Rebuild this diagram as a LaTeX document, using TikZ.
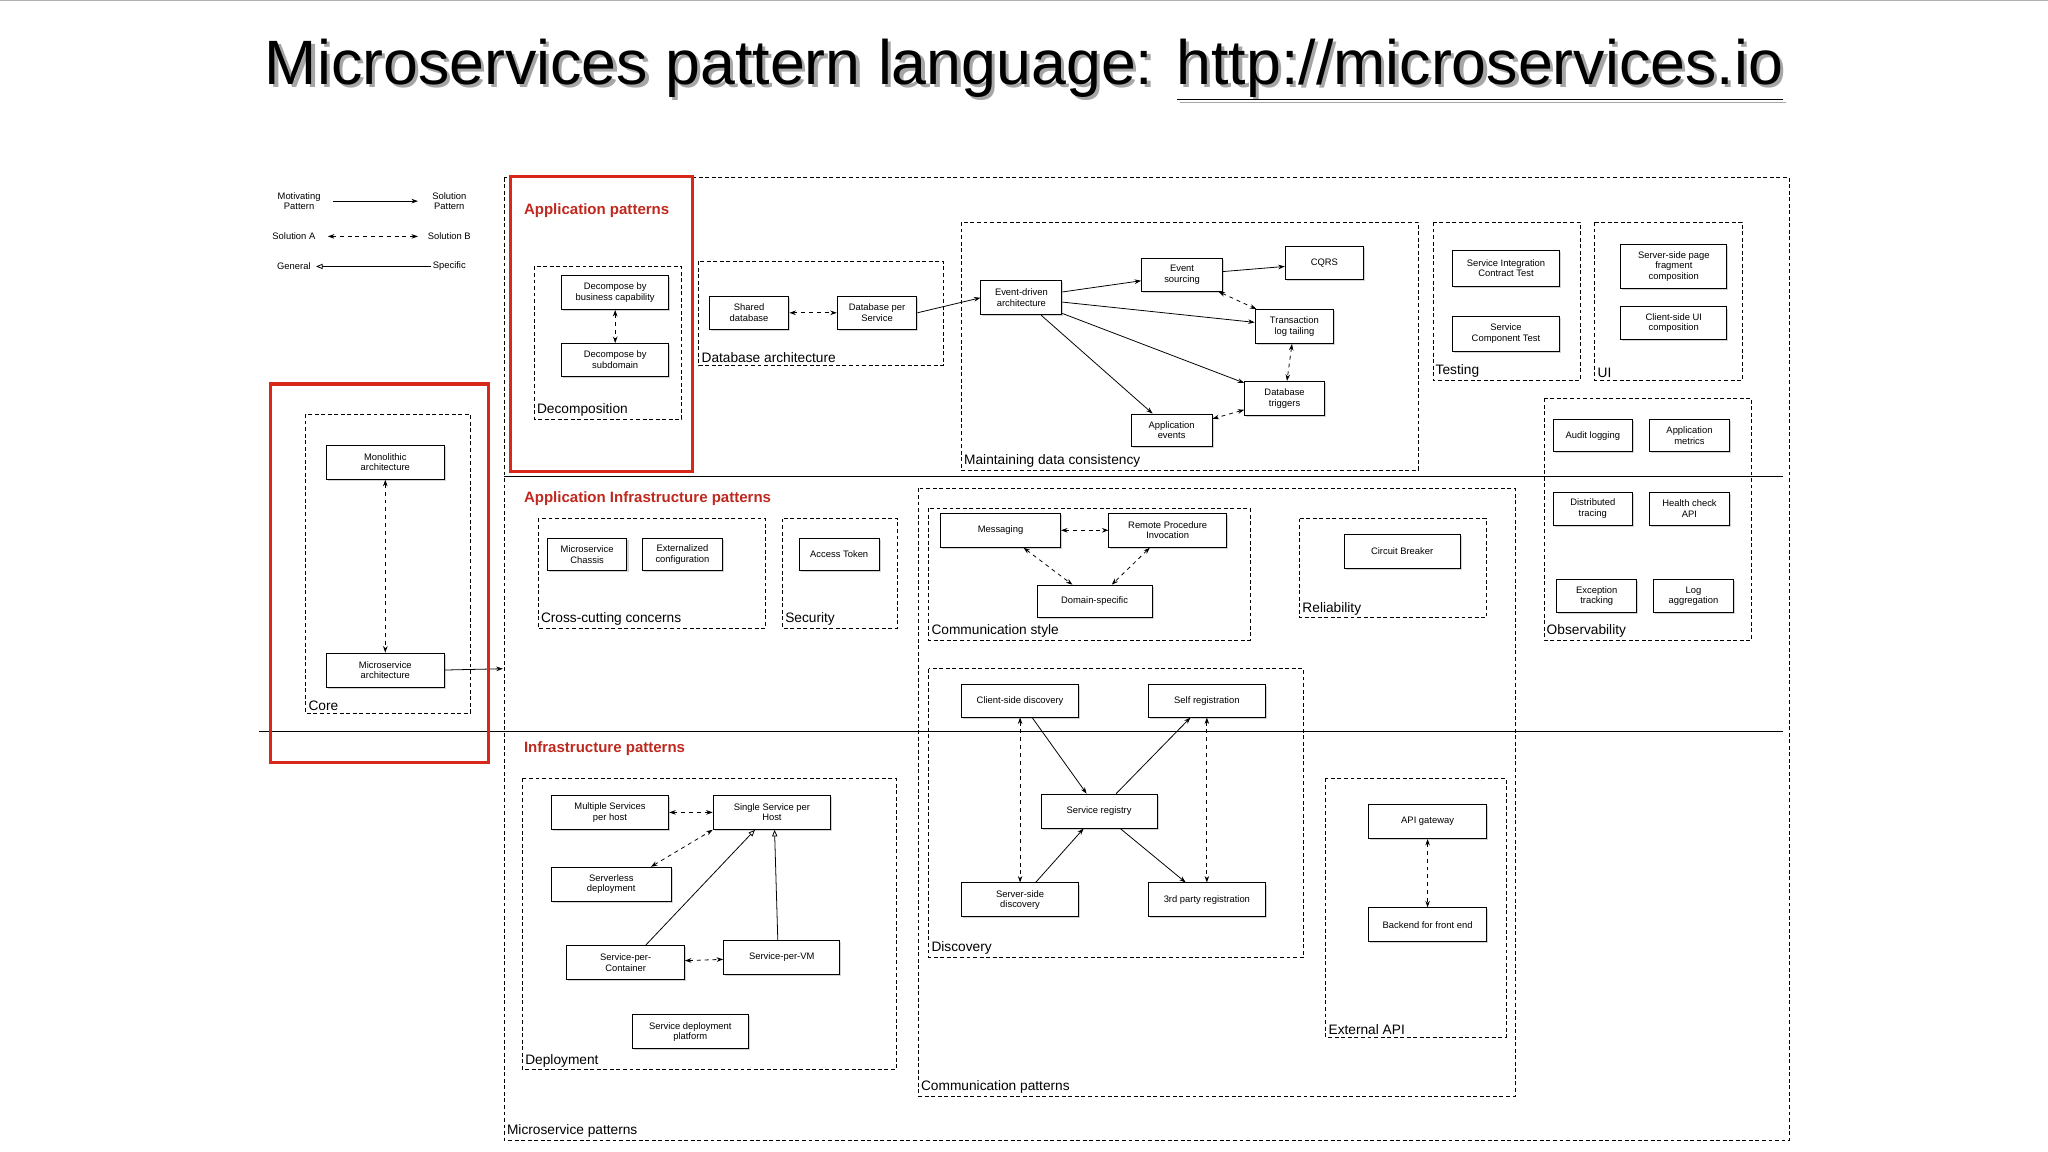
\documentclass[tikz,border=0pt]{standalone}
\usepackage{fontspec}
\setmainfont{Liberation Sans}
\usetikzlibrary{arrows.meta,shadows}
\definecolor{redl}{RGB}{190,40,30}
\definecolor{redb}{RGB}{215,40,25}
\newcommand\bx[6]{\node[box,minimum width={(#4-#2)*1pt},minimum height={(#5-#3)*1pt}] (#1) at ({(#2+#4)/2},{(#3+#5)/2}) {#6};}
\newcommand\grp[5]{\draw[grpb] (#1,#2) rectangle (#3,#4); \node[glab] at (#1,#4) {#5};}
\begin{document}
\begin{tikzpicture}[x=1pt,y=-1pt,
 box/.style={draw,fill=white,line width=0.7pt,align=center,inner sep=1pt,font=\fontsize{7.2}{8}\selectfont,drop shadow={shadow xshift=1.2pt,shadow yshift=-1.2pt,opacity=0.35}},
 grpb/.style={dashed,line width=0.5pt,dash pattern=on 3pt off 2pt},
 glab/.style={anchor=south west,inner sep=2pt,font=\fontsize{10.5}{11}\selectfont},
 rlab/.style={anchor=west,inner sep=0pt,text=redl,font=\bfseries\fontsize{11.5}{12}\selectfont},
 ar/.style={-{Stealth[length=5pt,width=3.5pt]},line width=0.6pt},
 dd/.style={{Stealth[length=5pt,width=3.5pt]}-{Stealth[length=5pt,width=3.5pt]},dashed,line width=0.6pt},
 tri/.style={-{Triangle[open,length=5pt,width=4pt]},line width=0.6pt},
 lg/.style={font=\fontsize{7.2}{8}\selectfont,align=center,inner sep=1pt}]
\useasboundingbox (0,0) rectangle (1568,882);
\draw[gray!60,line width=0.5pt] (0,0.5) -- (1568,0.5);
% title
\node[text=black!35,font=\fontsize{48}{52}\selectfont] at (786.5,55.5) {Microservices pattern language: \underline{http://microservices.io}};
\node[font=\fontsize{48}{52}\selectfont] (title) at (784,53) {Microservices pattern language: \underline{http://microservices.io}};
% legend
\node[lg] (mp) at (229,154) {Motivating\\Pattern};
\node[lg] (sp) at (344,154) {Solution\\Pattern};
\draw[ar] (255,154) -- (320,154);
\node[lg] (sa) at (225,181) {Solution A};
\node[lg] (sb) at (344,181) {Solution B};
\draw[dd] (251,181) -- (320,181);
\node[lg] (ge) at (225,204) {General};
\node[lg] (spc) at (344,204) {Specific};
\draw[tri] (330,204) -- (242,204);
% outer
\grp{386}{136}{1370}{873}{Microservice patterns}
\draw[line width=0.8pt] (386,365) -- (1365,365);
\draw[line width=0.8pt] (198,560) -- (1365,560);
% core
\grp{234}{317}{360}{546}{Core}
\bx{mono}{250}{341}{340}{367}{Monolithic\\architecture}
\bx{micro}{250}{500}{340}{526}{Microservice\\architecture}
\draw[dd] (mono) -- (micro);
\coordinate (mcend) at (385,512);
\draw[ar] (micro.east) -- (mcend);
% app patterns
\node[rlab] at (401,161) {Application patterns};
\grp{409}{204}{522}{321}{Decomposition}
\bx{dbc}{430}{211}{512}{237}{Decompose by\\business capability}
\bx{dsd}{430}{263}{512}{288}{Decompose by\\subdomain}
\draw[dd] (dbc) -- (dsd);
\grp{535}{200}{722}{280}{Database architecture}
\bx{shdb}{543}{227}{604}{252}{Shared\\database}
\bx{dbps}{641}{227}{702}{252}{Database per\\Service}
\draw[dd] (shdb) -- (dbps);
\grp{736}{170}{1086}{360}{Maintaining data consistency}
\bx{eda}{751}{215}{813}{241}{Event-driven\\architecture}
\bx{es}{874}{198}{936}{223}{Event\\sourcing}
\bx{cqrs}{984}{189}{1044}{214}{CQRS}
\bx{tlt}{961}{237}{1021}{263}{Transaction\\log tailing}
\bx{dt}{953}{292}{1014}{318}{Database\\triggers}
\bx{ae}{866}{317}{928}{342}{Application\\events}
\draw[ar] (dbps.east) -- (eda.west);
\draw[ar] (eda) -- (es);
\draw[ar] (es) -- (cqrs);
\draw[dd] (es) -- (tlt);
\draw[ar] (eda) -- (tlt);
\draw[ar] (eda) -- (dt);
\draw[ar] (eda) -- (ae);
\draw[dd] (tlt) -- (dt);
\draw[dd] (dt) -- (ae);
\grp{1097}{170}{1210}{291}{Testing}
\bx{sict}{1112}{192}{1194}{219}{Service Integration\\Contract Test}
\bx{sct}{1112}{242}{1194}{269}{Service\\Component Test}
\grp{1221}{170}{1334}{291}{UI}
\bx{sspf}{1241}{187}{1322}{221}{Server-side page\\fragment\\composition}
\bx{csui}{1241}{235}{1322}{260}{Client-side  UI\\composition}
\grp{1182}{305}{1341}{490}{Observability}
\bx{al}{1189}{321}{1250}{346}{Audit logging}
\bx{am}{1263}{321}{1324}{346}{Application\\metrics}
\bx{dtr}{1189}{377}{1250}{402}{Distributed\\tracing}
\bx{hc}{1263}{377}{1324}{402}{Health check\\API}
\bx{ext}{1192}{444}{1253}{469}{Exception\\tracking}
\bx{la}{1266}{444}{1327}{469}{Log\\aggregation}
% app infra
\node[rlab] at (401,382) {Application Infrastructure patterns};
\grp{412}{397}{586}{481}{Cross-cutting concerns}
\bx{chas}{419}{412}{480}{437}{Microservice\\Chassis}
\bx{extc}{492}{412}{553}{437}{Externalized\\configuration}
\grp{599}{397}{687}{481}{Security}
\bx{at}{612}{412}{673}{437}{Access Token}
\grp{703}{374}{1160}{839}{Communication patterns}
\grp{711}{389}{957}{490}{Communication style}
\bx{msg}{720}{393}{812}{419}{Messaging}
\bx{rpi}{849}{393}{939}{419}{Remote Procedure\\Invocation}
\bx{dom}{794}{448}{882}{473}{Domain-specific}
\draw[dd] (msg) -- (rpi);
\draw[dd] (msg) -- (dom);
\draw[dd] (rpi) -- (dom);
\grp{995}{397}{1138}{473}{Reliability}
\bx{cb}{1029}{409}{1118}{435}{Circuit Breaker}
\grp{711}{512}{998}{733}{Discovery}
\bx{csd}{736}{524}{826}{549}{Client-side discovery}
\bx{sr}{879}{524}{969}{549}{Self registration}
\bx{reg}{797}{608}{886}{634}{Service registry}
\bx{ssd}{736}{676}{826}{702}{Server-side\\discovery}
\bx{tpr}{879}{676}{969}{702}{3rd party registration}
\draw[ar] (csd) -- (reg);
\draw[ar] (reg) -- (sr);
\draw[ar] (ssd) -- (reg);
\draw[ar] (reg) -- (tpr);
\draw[dd] (csd.south) -- (ssd.north);
\draw[dd] (sr.south) -- (tpr.north);
\grp{1015}{596}{1153}{794}{External API}
\bx{apig}{1048}{616}{1138}{642}{API gateway}
\bx{bff}{1048}{695}{1138}{721}{Backend for front end}
\draw[dd] (apig) -- (bff);
% infra
\node[rlab] at (401,573) {Infrastructure patterns};
\grp{400}{596}{686}{819}{Deployment}
\bx{msph}{422}{609}{512}{635}{Multiple Services\\per host}
\bx{ssph}{546}{609}{636}{635}{Single Service per\\Host}
\bx{sls}{422}{664}{514}{690}{Serverless\\deployment}
\bx{spc}{434}{724}{524}{750}{Service-per-\\Container}
\bx{spvm}{554}{720}{643}{746}{Service-per-VM}
\bx{sdp}{484}{777}{573}{803}{Service deployment\\platform}
\draw[dd] (msph) -- (ssph);
\draw[dd] (sls.north east) ++(-16,0) -- (ssph.south west);
\draw[tri] (spc.north east) ++(-30,0) -- ([xshift=-13pt]ssph.south);
\draw[tri] (spvm.north) ++(-3,0) -- ([xshift=2pt]ssph.south);
\draw[dd] (spc) -- (spvm);
% red highlights
\draw[redb,line width=2.5pt] (391,135) rectangle (530,361);
\draw[redb,line width=2.5pt] (207,294) rectangle (374,584);
\end{tikzpicture}
\end{document}
